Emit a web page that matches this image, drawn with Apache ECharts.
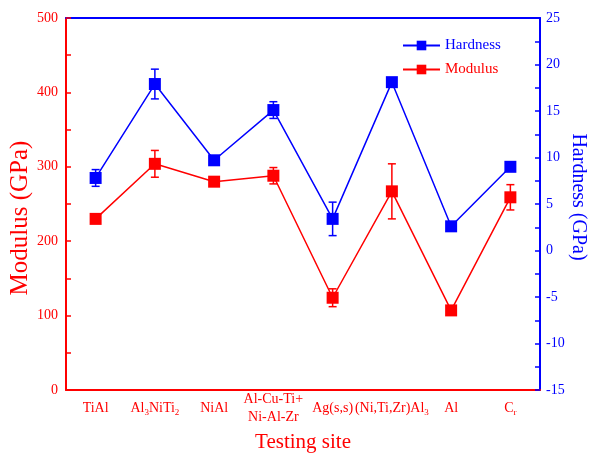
<!DOCTYPE html>
<html>
<head>
<meta charset="utf-8">
<script src="https://cdn.jsdelivr.net/npm/echarts@6/dist/echarts.min.js"></script>
<style>html,body{margin:0;padding:0;background:#fff;}#c{width:590px;height:453px;}</style>
</head>
<body>
<div id="c"></div>
<script>
const categories = ['TiAl', 'Al3NiTi2', 'NiAl', 'Al-Cu-Ti+Ni-Al-Zr', 'Ag(s,s)', '(Ni,Ti,Zr)Al3', 'Al', 'Cr'];
const modulus = [230, 304, 280, 288, 124, 267, 107, 259];
const modulusErr = [0, 18, 0, 11, 12, 37, 0, 17];
const hardness = [7.8, 17.9, 9.7, 15.1, 3.4, 18.1, 2.6, 9.0];
const hardnessErr = [0.9, 1.6, 0, 0.9, 1.8, 0, 0, 0];
const leftTicks = [0, 100, 200, 300, 400, 500];
const rightTicks = [-15, -10, -5, 0, 5, 10, 15, 20, 25];

const labelRich = {
  '0': '{a|TiAl}',
  '1': '{a|Al}{s|3}{a|NiTi}{s|2}',
  '2': '{a|NiAl}',
  '3': '{a|Al-Cu-Ti+}\n{a|Ni-Al-Zr}',
  '4': '{a|Ag(s,s)}',
  '5': '{a|(Ni,Ti,Zr)Al}{s|3}',
  '6': '{a|Al}',
  '7': '{a|C}{s|r}'
};

const RED = '#ff0000', BLUE = '#0000ff';
const FONT = 'Liberation Serif';

function errSeries(vals, errs, color, yIdx) {
  return {
    type: 'custom',
    yAxisIndex: yIdx,
    z: 1,
    silent: true,
    encode: {x: 0, y: 1},
    data: vals.map((v, i) => [i, v, errs[i]]),
    renderItem: function (params, api) {
      const x = api.value(0), y = api.value(1), e = api.value(2);
      if (!e) return null;
      const t = api.coord([x, y + e]);
      const b = api.coord([x, y - e]);
      const w = 4;
      const st = {stroke: color, lineWidth: 1.5};
      return {type: 'group', children: [
        {type: 'line', shape: {x1: t[0], y1: t[1], x2: b[0], y2: b[1]}, style: st},
        {type: 'line', shape: {x1: t[0] - w, y1: t[1], x2: t[0] + w, y2: t[1]}, style: st},
        {type: 'line', shape: {x1: b[0] - w, y1: b[1], x2: b[0] + w, y2: b[1]}, style: st}
      ]};
    }
  };
}

const chart = echarts.init(document.getElementById('c'));
chart.setOption({
  animation: false,
  backgroundColor: '#fff',
  textStyle: {fontFamily: FONT},
  grid: {left: 66, right: 50, top: 18, bottom: 63, containLabel: false, outerBoundsMode: 'none'},
  legend: {
    orient: 'vertical',
    left: 397,
    top: 33,
    itemWidth: 37,
    itemHeight: 12,
    itemGap: 9,
    textStyle: {fontFamily: FONT, fontSize: 15},
    data: [
      {name: 'Hardness', textStyle: {color: BLUE}},
      {name: 'Modulus', textStyle: {color: RED}}
    ]
  },
  xAxis: [{
    type: 'category',
    data: categories,
    boundaryGap: true,
    position: 'bottom',
    name: 'Testing site',
    nameLocation: 'middle',
    nameGap: 42,
    nameMoveOverlap: false,
    nameTextStyle: {color: RED, fontSize: 21, fontFamily: FONT},
    axisLine: {onZero: false, lineStyle: {color: RED, width: 2}},
    axisTick: {inside: true, alignWithLabel: true, length: 6, lineStyle: {color: RED, width: 1.5}},
    axisLabel: {
      interval: 0,
      margin: 18,
      verticalAlign: 'middle',
      formatter: function (v, i) { return labelRich[String(i)]; },
      rich: {
        a: {fontFamily: FONT, fontSize: 14, color: RED, lineHeight: 18},
        s: {fontFamily: FONT, fontSize: 9, color: RED, lineHeight: 10, verticalAlign: 'bottom'}
      }
    },
    splitLine: {show: false}
  }, {
    type: 'category',
    data: categories,
    position: 'top',
    axisLine: {onZero: false, lineStyle: {color: BLUE, width: 2}},
    axisTick: {show: false},
    axisLabel: {show: false},
    splitLine: {show: false}
  }],
  yAxis: [{
    type: 'value',
    min: leftTicks[0],
    max: leftTicks[leftTicks.length - 1],
    interval: 100,
    position: 'left',
    name: 'Modulus (GPa)',
    nameLocation: 'middle',
    nameRotate: 90,
    nameGap: 33,
    nameMoveOverlap: false,
    nameTextStyle: {color: RED, fontSize: 25, fontFamily: FONT, padding: [0, 28, 0, 0]},
    axisLine: {show: true, onZero: false, lineStyle: {color: RED, width: 2}},
    axisTick: {show: true, inside: true, length: 5, lineStyle: {color: RED, width: 1.5}},
    minorTick: {show: true, splitNumber: 2, length: 5, lineStyle: {color: RED, width: 1.5}},
    axisLabel: {color: RED, fontSize: 14, fontFamily: FONT, margin: 8},
    splitLine: {show: false}
  }, {
    type: 'value',
    min: rightTicks[0],
    max: rightTicks[rightTicks.length - 1],
    interval: 5,
    position: 'right',
    name: 'Hardness (GPa)',
    nameLocation: 'middle',
    nameRotate: -90,
    nameGap: 28,
    nameMoveOverlap: false,
    nameTextStyle: {color: BLUE, fontSize: 20, fontFamily: FONT, padding: [0, 14, 0, 0]},
    axisLine: {show: true, onZero: false, lineStyle: {color: BLUE, width: 2}},
    axisTick: {show: true, inside: true, length: 5, lineStyle: {color: BLUE, width: 1.5}},
    minorTick: {show: true, splitNumber: 2, length: 5, lineStyle: {color: BLUE, width: 1.5}},
    axisLabel: {color: BLUE, fontSize: 14, fontFamily: FONT, margin: 6},
    splitLine: {show: false}
  }],
  series: [
    {
      name: 'Hardness',
      type: 'line',
      yAxisIndex: 1,
      z: 3,
      data: hardness,
      symbol: 'rect',
      symbolSize: 12,
      color: BLUE,
      itemStyle: {color: BLUE},
      lineStyle: {color: BLUE, width: 1.5}
    },
    {
      name: 'Modulus',
      type: 'line',
      yAxisIndex: 0,
      z: 3,
      data: modulus,
      symbol: 'rect',
      symbolSize: 12,
      color: RED,
      itemStyle: {color: RED},
      lineStyle: {color: RED, width: 1.5}
    },
    errSeries(hardness, hardnessErr, BLUE, 1),
    errSeries(modulus, modulusErr, RED, 0)
  ]
});
</script>
</body>
</html>
